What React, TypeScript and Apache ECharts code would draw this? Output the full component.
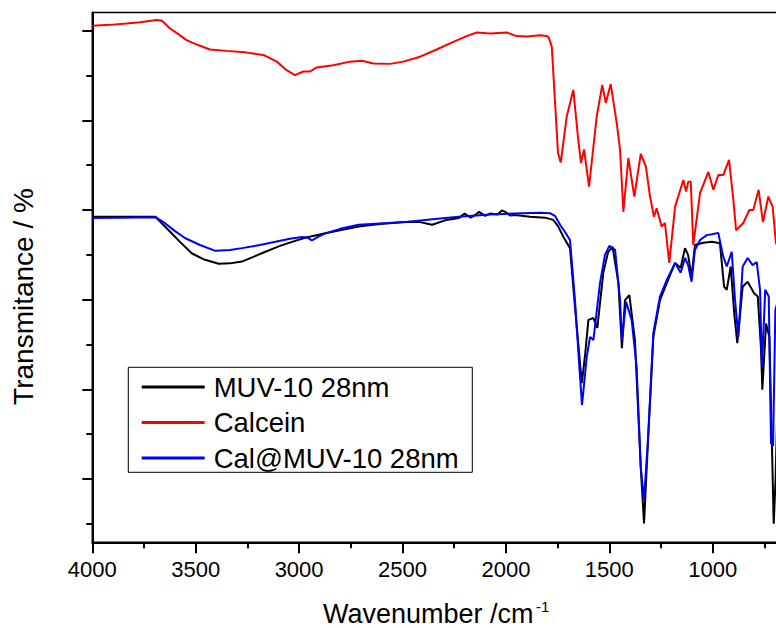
import React, { useEffect, useRef } from 'react';
import * as echarts from 'echarts';

const FONT = "'Liberation Sans', Arial, Helvetica, sans-serif";

const seriesNames = ['MUV-10 28nm', 'Calcein', 'Cal@MUV-10 28nm'];
const seriesColors = ['#000000', '#ff0000', '#0000ff'];

const xTitle = 'Wavenumber /cm';
const xTitleSup = '-1';
const yTitle = 'Transmitance / %';

const xLabelValues = [4000, 3500, 3000, 2500, 2000, 1500, 1000];

// y axis (arbitrary transmittance units), ticks without labels
const Y_MIN = 5.88;
const Y_MAX = 124.06;
const yMajorTicks = [20, 40, 60, 80, 100, 120];
const yMinorTicks = [10, 30, 50, 70, 90, 110];

// [wavenumber cm-1, transmittance]
const muv10: [number, number][] = [
  [4000, 78.5], [3866, 78.5], [3695, 78.5], [3631, 75.5], [3576, 72.9], [3518, 70.3], [3455, 68.9],
  [3389, 68.0], [3334, 68.1], [3276, 68.5], [3213, 69.7], [3163, 70.7], [3092, 72.0], [3034, 72.9],
  [2971, 73.8], [2873, 74.8], [2802, 75.5], [2712, 76.3], [2609, 76.9], [2470, 77.4], [2415, 77.3],
  [2357, 76.7], [2294, 77.7], [2228, 78.2], [2200, 79.2], [2170, 78.3], [2148, 78.9], [2130, 79.6],
  [2100, 78.7], [2077, 79.2], [2040, 79.0], [2020, 79.9], [2003, 79.6], [1980, 78.8], [1956, 78.9],
  [1883, 78.5], [1811, 78.3], [1771, 77.8], [1748, 76.4], [1722, 74.0], [1690, 71.5], [1666, 58.4],
  [1633, 41.4], [1617, 47.7], [1601, 55.5], [1577, 55.9], [1558, 53.7], [1529, 66.0], [1506, 70.6],
  [1484, 71.8], [1456, 63.7], [1439, 49.2], [1424, 59.9], [1403, 61.0], [1376, 51.0], [1348, 22.7],
  [1332, 10.1], [1311, 30.3], [1287, 51.7], [1255, 59.9], [1222, 63.7], [1182, 68.2], [1155, 67.1],
  [1134, 71.5], [1119, 70.0], [1102, 65.1], [1086, 72.2], [1045, 72.7], [1003, 72.9], [965, 72.6],
  [945, 62.9], [932, 62.2], [913, 67.4], [896, 57.0], [881, 50.3], [855, 62.9], [831, 64.0],
  [799, 61.4], [782, 60.7], [766, 48.8], [760, 39.9], [742, 54.7], [726, 51.7], [713, 26.5],
  [705, 10.0], [696, 19.8], [684, 42.1],
];

const calcein: [number, number][] = [
  [4000, 121.1], [3914, 121.3], [3834, 121.6], [3769, 121.9], [3689, 122.4], [3663, 122.2], [3624, 120.5],
  [3586, 119.3], [3544, 117.9], [3489, 116.8], [3431, 115.8], [3350, 115.5], [3262, 115.2], [3237, 115.0],
  [3173, 114.6], [3108, 113.1], [3060, 111.2], [3020, 110.1], [2980, 110.9], [2947, 110.9], [2915, 111.8],
  [2835, 112.3], [2754, 113.1], [2697, 113.3], [2641, 112.7], [2560, 112.6], [2496, 113.1], [2415, 114.2],
  [2335, 115.8], [2254, 117.5], [2190, 118.8], [2141, 119.6], [2077, 119.4], [1996, 119.6], [1948, 118.8],
  [1899, 118.7], [1835, 119.0], [1803, 118.8], [1792, 118.4], [1778, 116.4], [1763, 104.5], [1748, 92.7],
  [1735, 90.6], [1706, 100.8], [1674, 106.8], [1650, 95.6], [1637, 90.5], [1622, 93.5], [1598, 85.2],
  [1561, 100.8], [1534, 107.9], [1517, 103.9], [1493, 108.1], [1464, 99.4], [1448, 93.4], [1432, 79.6],
  [1408, 91.6], [1379, 83.0], [1348, 92.5], [1323, 89.7], [1303, 83.0], [1284, 78.5], [1271, 80.4],
  [1247, 76.3], [1231, 77.1], [1210, 68.2], [1182, 80.7], [1142, 86.7], [1129, 84.1], [1118, 86.3],
  [1106, 86.3], [1094, 72.2], [1061, 83.8], [1021, 88.5], [997, 84.5], [973, 87.8], [949, 87.8],
  [921, 91.2], [900, 82.2], [887, 75.5], [852, 77.1], [823, 80.0], [804, 80.0], [778, 84.5],
  [757, 77.3], [731, 83.0], [710, 80.7], [694, 72.6], [675, 71.1],
];

const calMuv10: [number, number][] = [
  [4000, 78.2], [3866, 78.3], [3695, 78.4], [3647, 77.0], [3600, 75.3], [3550, 73.7], [3479, 72.2],
  [3405, 70.9], [3334, 71.1], [3276, 71.5], [3189, 72.2], [3115, 72.9], [3044, 73.6], [2986, 74.0],
  [2957, 73.8], [2938, 73.2], [2909, 74.0], [2873, 74.8], [2802, 75.8], [2712, 76.7], [2609, 77.0],
  [2470, 77.4], [2367, 77.9], [2228, 78.5], [2077, 79.0], [1922, 79.3], [1835, 79.4], [1787, 79.3],
  [1763, 78.7], [1738, 76.7], [1714, 75.1], [1690, 73.3], [1666, 59.9], [1647, 46.5], [1632, 36.5],
  [1609, 47.3], [1593, 51.7], [1577, 51.0], [1545, 63.7], [1521, 70.0], [1500, 72.0], [1472, 71.1],
  [1448, 59.9], [1439, 51.0], [1419, 59.5], [1392, 55.5], [1368, 45.0], [1348, 22.7], [1332, 15.3],
  [1311, 30.3], [1287, 52.6], [1255, 60.7], [1222, 64.4], [1182, 68.2], [1155, 66.0], [1134, 69.3],
  [1119, 67.7], [1102, 64.0], [1086, 71.1], [1061, 73.3], [1029, 74.4], [1003, 74.6], [973, 74.9],
  [949, 69.6], [932, 67.4], [908, 70.7], [892, 59.9], [876, 51.7], [855, 67.4], [831, 69.3],
  [807, 67.7], [787, 68.4], [771, 62.2], [762, 44.8], [746, 62.2], [729, 60.7], [718, 28.0],
  [708, 27.4], [697, 57.7], [684, 59.9],
];

const seriesData = [muv10, calcein, calMuv10];

export default function App() {
  const ref = useRef<HTMLDivElement>(null);

  useEffect(() => {
    if (!ref.current) return;
    const chart = echarts.init(ref.current, null, { renderer: 'svg' });
    const tickStyle = { color: '#000', width: 2 };
    const option: any = {
      animation: false,
      backgroundColor: '#ffffff',
      textStyle: { fontFamily: FONT },
      grid: {
        left: 92.3,
        top: 12.5,
        width: 723.8,
        height: 529.8,
        containLabel: false,
        outerBoundsMode: 'none',
        show: true,
        borderColor: '#000',
        borderWidth: 1.5,
        backgroundColor: 'transparent',
      },
      legend: {
        show: true,
        orient: 'vertical',
        left: 141.7,
        top: 373,
        padding: 0,
        itemWidth: 63,
        itemHeight: 3,
        itemGap: 7.5,
        icon: 'rect',
        selectedMode: false,
        data: seriesNames,
        textStyle: { fontSize: 27.5, color: '#000', fontFamily: FONT, padding: [0, 0, 0, 4] },
      },
      xAxis: {
        type: 'value',
        inverse: true,
        min: 500,
        max: 4000,
        interval: 500,
        axisLine: { show: true, onZero: false, lineStyle: tickStyle },
        axisTick: { show: true, length: 11, lineStyle: tickStyle },
        minorTick: { show: true, splitNumber: 2, length: 6, lineStyle: tickStyle },
        axisLabel: {
          fontSize: 22,
          color: '#000',
          margin: 16,
          fontFamily: FONT,
          customValues: xLabelValues,
          formatter: (v: number) => String(v),
        },
        splitLine: { show: false },
        minorSplitLine: { show: false },
      },
      yAxis: [
        {
          type: 'value',
          position: 'left',
          offset: 0,
          min: Y_MIN,
          max: Y_MAX,
          axisLine: { show: true, onZero: false, lineStyle: tickStyle },
          axisTick: { show: true, length: 10, customValues: yMajorTicks, lineStyle: tickStyle },
          axisLabel: { show: false },
          splitLine: { show: false },
        },
        {
          type: 'value',
          position: 'left',
          offset: 0,
          min: Y_MIN,
          max: Y_MAX,
          axisLine: { show: false },
          axisTick: { show: true, length: 6, customValues: yMinorTicks, lineStyle: tickStyle },
          axisLabel: { show: false },
          splitLine: { show: false },
        },
      ],
      graphic: [
        {
          type: 'rect',
          z: 3,
          shape: { x: 128.3, y: 367.3, width: 344, height: 105 },
          style: { fill: '#ffffff', stroke: '#000', lineWidth: 1 },
        },
        {
          type: 'text',
          x: 323,
          y: 614,
          style: { text: xTitle, fontSize: 27, fontFamily: FONT, fill: '#000', align: 'left', verticalAlign: 'middle' },
        },
        {
          type: 'text',
          x: 536,
          y: 606,
          style: { text: xTitleSup, fontSize: 15, fontFamily: FONT, fill: '#000', align: 'left', verticalAlign: 'middle' },
        },
        {
          type: 'text',
          x: 23.5,
          y: 296.5,
          rotation: Math.PI / 2,
          style: { text: yTitle, fontSize: 28, fontFamily: FONT, fill: '#000', align: 'center', verticalAlign: 'middle' },
        },
      ],
      series: seriesData.map((d, i) => ({
        name: seriesNames[i],
        type: 'line',
        data: d,
        yAxisIndex: 0,
        showSymbol: false,
        symbol: 'none',
        silent: true,
        color: seriesColors[i],
        lineStyle: { color: seriesColors[i], width: 2 },
      })),
    };
    chart.setOption(option);
    return () => chart.dispose();
  }, []);

  return (
    <div
      ref={ref}
      style={{ position: 'absolute', left: 0, top: 0, width: 776, height: 628, background: '#fff' }}
    />
  );
}
